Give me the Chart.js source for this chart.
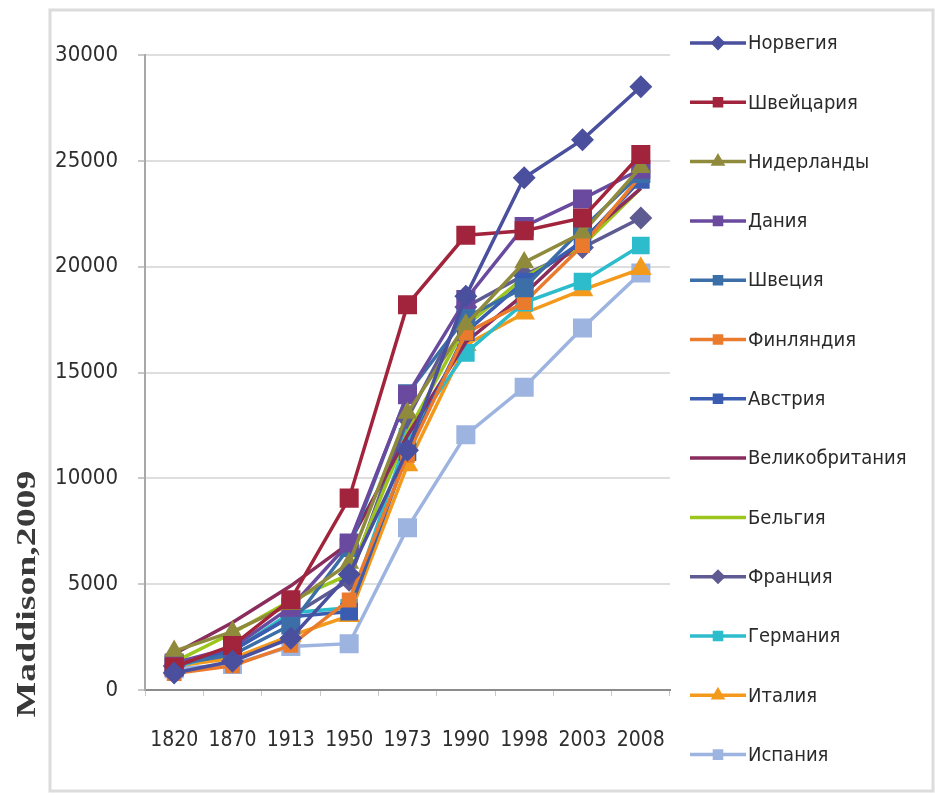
<!DOCTYPE html>
<html>
<head>
<meta charset="utf-8">
<script src="https://cdn.jsdelivr.net/npm/chart.js@4/dist/chart.umd.min.js"></script>
<style>
  html, body { margin: 0; padding: 0; background: #fff; }
  #wrap { position: relative; width: 935px; height: 795px; }
</style>
</head>
<body>
<div id="wrap"><canvas id="gdpChart"></canvas></div>
<script>
// Data: GDP per capita, Maddison 2009
const years = ['1820', '1870', '1913', '1950', '1973', '1990', '1998', '2003', '2008'];
const yTicks = [0, 5000, 10000, 15000, 20000, 25000, 30000];

const norway      = [801, 1360, 2447, 5463, 11324, 18600, 24200, 26000, 28500];
const switzerland = [1090, 2102, 4266, 9064, 18204, 21482, 21700, 22300, 25300];
const netherlands = [1838, 2757, 4049, 5996, 13081, 17262, 20200, 21600, 24700];
const denmark     = [1274, 2003, 3912, 6943, 13945, 18452, 21900, 23200, 24600];
const sweden      = [1198, 1662, 3073, 6739, 14000, 17609, 19000, 21800, 24400];
const finland     = [781, 1140, 2111, 4253, 11085, 16866, 18300, 21000, 24300];
const austria     = [1218, 1863, 3465, 3706, 11235, 16905, 19300, 21200, 24100];
const britain     = [1706, 3190, 4921, 6939, 12025, 16430, 18700, 21300, 23700];
const belgium     = [1319, 2692, 4220, 5462, 12170, 17197, 19500, 21000, 23700];
const france      = [1135, 1876, 3485, 5186, 12824, 18093, 19600, 20900, 22300];
const germany     = [1077, 1839, 3648, 3881, 11966, 15929, 18300, 19300, 21000];
const italy       = [1117, 1499, 2564, 3502, 10634, 16313, 17800, 18900, 19900];
const spain       = [1008, 1207, 2056, 2189, 7661, 12055, 14300, 17100, 19700];

const FONT = "'DejaVu Sans Condensed', 'Liberation Sans Narrow', sans-serif";

// Build a line dataset
function series(label, data, color, pointStyle, radius) {
    return {
        label: label,
        data: data,
        borderColor: color,
        backgroundColor: color,
        pointBackgroundColor: color,
        pointBorderColor: color,
        pointStyle: pointStyle || false,
        pointRadius: pointStyle ? radius : 0,
        borderWidth: 3.5,
        tension: 0,
        fill: false
    };
}

const datasets = [
    series('Норвегия', norway, '#4a4f9e', 'rectRot', 9),
    series('Швейцария', switzerland, '#a2243c', 'rect', 11),
    series('Нидерланды', netherlands, '#8f8a3c', 'triangle', 8),
    series('Дания', denmark, '#6a4a9e', 'rect', 11),
    series('Швеция', sweden, '#3c6ea8', 'rect', 11),
    series('Финляндия', finland, '#ea7a2c', 'rect', 8),
    series('Австрия', austria, '#3a5db2', 'rect', 10),
    series('Великобритания', britain, '#8a2c5c', null, 0),
    series('Бельгия', belgium, '#9cc51e', null, 0),
    series('Франция', france, '#5e5a92', 'rectRot', 9),
    series('Германия', germany, '#2cbccb', 'rect', 10),
    series('Италия', italy, '#f39a1c', 'triangle', 9),
    series('Испания', spain, '#9db4e0', 'rect', 11)
];

// Frame, rotated axis title and the side legend
const decorPlugin = {
    id: 'decor',
    beforeDraw(chart) {
        const ctx = chart.ctx;
        ctx.save();
        ctx.strokeStyle = '#dcdcdc';
        ctx.lineWidth = 3;
        ctx.strokeRect(50, 10, 883, 781);
        ctx.restore();
    },
    afterDraw(chart) {
        const ctx = chart.ctx;

        // y axis title
        ctx.save();
        ctx.translate(28, 594);
        ctx.rotate(-Math.PI / 2);
        ctx.scale(1.35, 1);
        ctx.font = "bold 28px 'Liberation Serif', 'DejaVu Serif', serif";
        ctx.fillStyle = '#3a3a3a';
        ctx.textAlign = 'center';
        ctx.textBaseline = 'middle';
        ctx.fillText('Maddison,2009', 0, 0);
        ctx.restore();

        // legend
        const top = 43, step = 59.3, x0 = 690, x1 = 746;
        chart.data.datasets.forEach((ds, i) => {
            const y = top + i * step;
            ctx.save();
            ctx.strokeStyle = ds.borderColor;
            ctx.lineWidth = 3.5;
            ctx.beginPath();
            ctx.moveTo(x0, y);
            ctx.lineTo(x1, y);
            ctx.stroke();
            if (ds.pointStyle) {
                ctx.fillStyle = ds.pointBackgroundColor;
                ctx.strokeStyle = ds.pointBorderColor;
                Chart.helpers.drawPoint(ctx, { pointStyle: ds.pointStyle, radius: 5, borderWidth: 1, rotation: 0 }, (x0 + x1) / 2, y);
            }
            ctx.font = '20px ' + FONT;
            ctx.fillStyle = '#2a2a2a';
            ctx.textAlign = 'left';
            ctx.textBaseline = 'middle';
            ctx.fillText(ds.label, x1 + 2, y + 1);
            ctx.restore();
        });
    }
};

const ctx = document.getElementById('gdpChart').getContext('2d');
new Chart(ctx, {
    type: 'line',
    data: { labels: years, datasets: datasets },
    options: {
        responsive: true,
        maintainAspectRatio: false,
        animation: false,
        devicePixelRatio: 1,
        layout: { padding: { left: 50, right: 265, top: 55, bottom: 0 } },
        plugins: {
            legend: { display: false },
            tooltip: { enabled: false }
        },
        scales: {
            x: {
                offset: true,
                afterFit: (scale) => { scale.height = 105; },
                grid: {
                    offset: true,
                    drawOnChartArea: false,
                    drawTicks: true,
                    tickLength: 6,
                    color: '#c8c8c8'
                },
                border: { color: '#8c8c8c', width: 2 },
                ticks: {
                    color: '#2e2e2e',
                    font: { family: FONT, size: 21 },
                    padding: 32,
                    maxRotation: 0,
                    autoSkip: false
                }
            },
            y: {
                min: yTicks[0],
                max: yTicks[yTicks.length - 1],
                afterFit: (scale) => { scale.width = 95; },
                afterBuildTicks: (scale) => { scale.ticks = yTicks.map(v => ({ value: v })); },
                grid: {
                    color: '#dedede',
                    lineWidth: 2,
                    tickLength: 7,
                    tickColor: '#c8c8c8'
                },
                border: { color: '#a8a8a8', width: 2 },
                ticks: {
                    color: '#2e2e2e',
                    font: { family: FONT, size: 22 },
                    padding: 20,
                    callback: (v) => String(v)
                }
            }
        }
    },
    plugins: [decorPlugin]
});
</script>
</body>
</html>
